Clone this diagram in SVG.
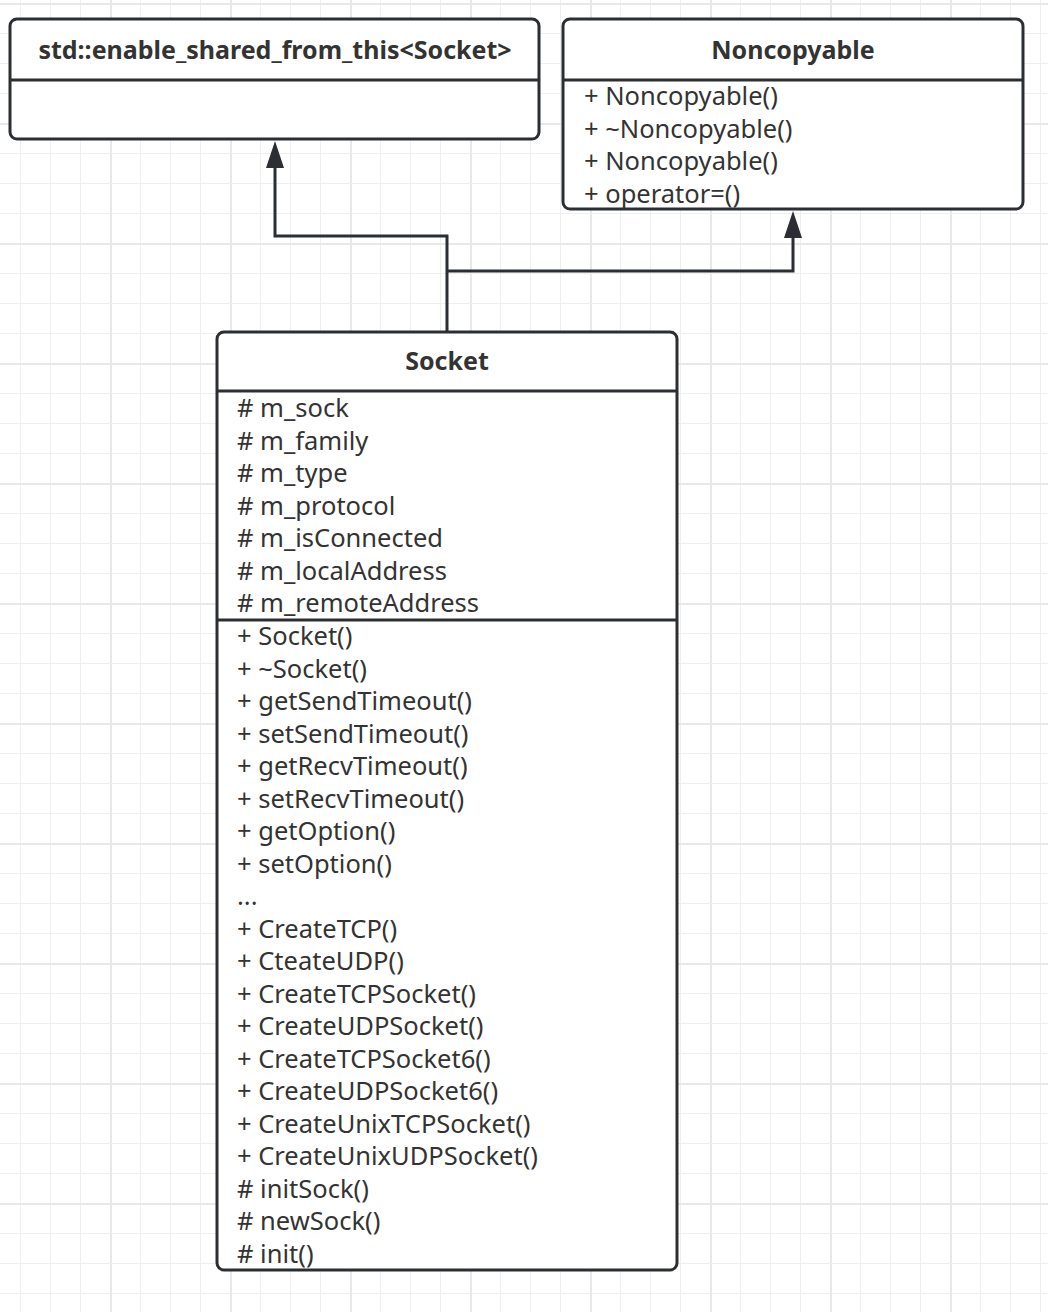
<svg xmlns="http://www.w3.org/2000/svg" width="1048" height="1312" viewBox="0 0 1048 1312">
<defs>
<pattern id="grid" patternUnits="userSpaceOnUse" x="20" y="3" width="120" height="120">
<rect x="0" y="0" width="1" height="120" fill="#efefef"/>
<rect x="30" y="0" width="1" height="120" fill="#efefef"/>
<rect x="60" y="0" width="1" height="120" fill="#efefef"/>
<rect x="90" y="0" width="2" height="120" fill="#e8e8e8"/>
<rect x="0" y="0" width="120" height="2" fill="#e8e8e8"/>
<rect x="0" y="30" width="120" height="1" fill="#efefef"/>
<rect x="0" y="60" width="120" height="1" fill="#efefef"/>
<rect x="0" y="90" width="120" height="1" fill="#efefef"/>
</pattern>
</defs>
<style>
.box{fill:#fff;stroke:#2b2e33;stroke-width:3}
.div{stroke:#2b2e33;stroke-width:3}
.title{font-family:"Noto Sans","Liberation Sans",sans-serif;font-weight:bold;font-size:25px;fill:#333;text-anchor:middle}
.mem{font-family:"Noto Sans","Liberation Sans",sans-serif;font-size:25.5px;fill:#333}
.edge{fill:none;stroke:#2b2e33;stroke-width:3}
.head{fill:#2b2e33}
</style>
<rect width="1048" height="1312" fill="#fff"/>
<rect width="1048" height="1312" fill="url(#grid)"/>

<g id="connectors">
<path class="edge" d="M447,332 V236 H275 V166"/>
<path class="head" d="M266,168 L275,141 L284,168 Z"/>
<path class="edge" d="M447,271 H793 V236"/>
<path class="head" d="M784,238 L793,211 L802,238 Z"/>
</g>

<g id="enable_shared_from_this">
<rect class="box" x="10" y="19" width="529" height="120" rx="7"/>
<line class="div" x1="10" y1="80" x2="539" y2="80"/>
<text class="title" x="275" y="59">std::enable_shared_from_this&lt;Socket&gt;</text>
</g>

<g id="Noncopyable">
<rect class="box" x="563" y="19" width="460" height="190" rx="7"/>
<line class="div" x1="563" y1="80" x2="1023" y2="80"/>
<text class="title" x="793" y="59">Noncopyable</text>
<text class="mem" x="584" y="105">+ Noncopyable()</text>
<text class="mem" x="584" y="138">+ ~Noncopyable()</text>
<text class="mem" x="584" y="170">+ Noncopyable()</text>
<text class="mem" x="584" y="203">+ operator=()</text>
</g>

<g id="Socket">
<rect class="box" x="217" y="332" width="460" height="938" rx="7"/>
<line class="div" x1="217" y1="391" x2="677" y2="391"/>
<line class="div" x1="217" y1="620" x2="677" y2="620"/>
<text class="title" x="447" y="370">Socket</text>
<text class="mem" x="237" y="417">
<tspan x="237" y="417"># m_sock</tspan>
<tspan x="237" y="449.5"># m_family</tspan>
<tspan x="237" y="482"># m_type</tspan>
<tspan x="237" y="514.5"># m_protocol</tspan>
<tspan x="237" y="547"># m_isConnected</tspan>
<tspan x="237" y="579.5"># m_localAddress</tspan>
<tspan x="237" y="612"># m_remoteAddress</tspan>
</text>
<text class="mem" x="237" y="645">
<tspan x="237" y="645">+ Socket()</tspan>
<tspan x="237" y="677.5">+ ~Socket()</tspan>
<tspan x="237" y="710">+ getSendTimeout()</tspan>
<tspan x="237" y="742.5">+ setSendTimeout()</tspan>
<tspan x="237" y="775">+ getRecvTimeout()</tspan>
<tspan x="237" y="807.5">+ setRecvTimeout()</tspan>
<tspan x="237" y="840">+ getOption()</tspan>
<tspan x="237" y="872.5">+ setOption()</tspan>
<tspan x="237" y="905">...</tspan>
<tspan x="237" y="937.5">+ CreateTCP()</tspan>
<tspan x="237" y="970">+ CteateUDP()</tspan>
<tspan x="237" y="1002.5">+ CreateTCPSocket()</tspan>
<tspan x="237" y="1035">+ CreateUDPSocket()</tspan>
<tspan x="237" y="1067.5">+ CreateTCPSocket6()</tspan>
<tspan x="237" y="1100">+ CreateUDPSocket6()</tspan>
<tspan x="237" y="1132.5">+ CreateUnixTCPSocket()</tspan>
<tspan x="237" y="1165">+ CreateUnixUDPSocket()</tspan>
<tspan x="237" y="1197.5"># initSock()</tspan>
<tspan x="237" y="1230"># newSock()</tspan>
<tspan x="237" y="1262.5"># init()</tspan>
</text>
</g>
</svg>
